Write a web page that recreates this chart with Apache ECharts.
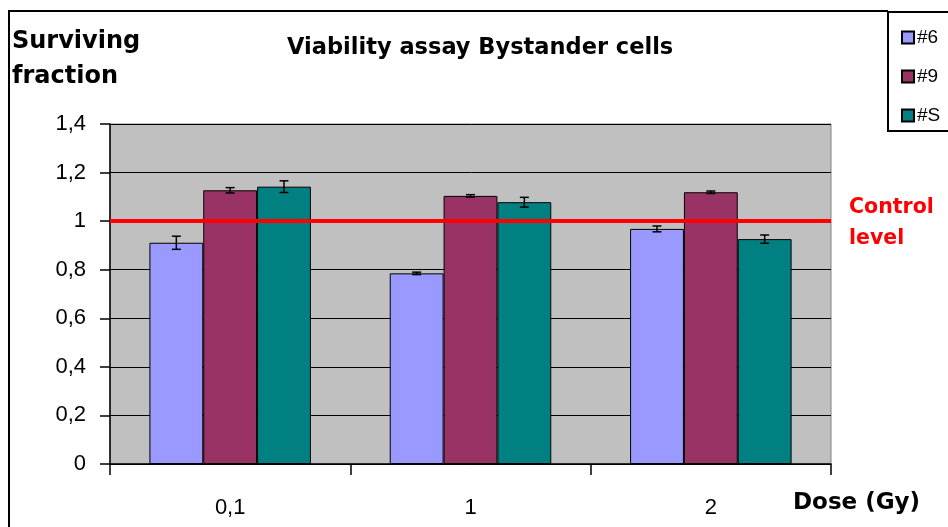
<!DOCTYPE html>
<html>
<head>
<meta charset="utf-8">
<script src="https://cdn.jsdelivr.net/npm/echarts@6/dist/echarts.min.js"></script>
<style>html,body{margin:0;padding:0;background:#fff}#c{width:948px;height:527px}</style>
</head>
<body>
<div id="c"></div>
<script>
const categories = ['0,1', '1', '2'];
const seriesNames = ['#6', '#9', '#S'];
const values6 = [0.911, 0.785, 0.968];
const values9 = [1.127, 1.104, 1.119];
const valuesS = [1.142, 1.078, 0.926];
const err6 = [0.027, 0.005, 0.012];
const err9 = [0.011, 0.005, 0.005];
const errS = [0.024, 0.020, 0.017];
const controlLevel = 1;
const yTicks = [0, 0.2, 0.4, 0.6, 0.8, 1, 1.2, 1.4];

const colors = ['#9999ff', '#993366', '#008080'];
const allValues = [values6, values9, valuesS];
const allErr = [err6, err9, errS];
const BAR_FRAC = 0.224;

const chart = echarts.init(document.getElementById('c'), null, {renderer: 'canvas'});

const barSeries = seriesNames.map((name, i) => ({
  name: name,
  type: 'bar',
  data: allValues[i],
  barWidth: (BAR_FRAC * 100) + '%',
  barGap: '0%',
  itemStyle: {color: colors[i], borderColor: '#000', borderWidth: 1},
  z: 2,
  markLine: i === 0 ? {
    silent: true,
    symbol: 'none',
    label: {show: false},
    lineStyle: {color: '#ff0000', width: 4, type: 'solid'},
    data: [{yAxis: controlLevel}],
    z: 5
  } : undefined
}));

const errSeries = seriesNames.map((name, i) => ({
  name: name + ' err',
  type: 'custom',
  z: 6,
  silent: true,
  encode: {x: 0, y: 1},
  data: allValues[i].map((v, k) => [k, v, allErr[i][k]]),
  renderItem: function (params, api) {
    const x = api.value(0), v = api.value(1), e = api.value(2);
    const catW = api.size([1, 0])[0];
    const off = (i - 1) * catW * BAR_FRAC;
    const top = api.coord([x, v + e]);
    const bot = api.coord([x, v - e]);
    const cx = top[0] + off;
    const hw = 4.5;
    const st = {stroke: '#000', lineWidth: 1.5};
    return {
      type: 'group',
      children: [
        {type: 'line', shape: {x1: cx, y1: top[1], x2: cx, y2: bot[1]}, style: st},
        {type: 'line', shape: {x1: cx - hw, y1: top[1], x2: cx + hw, y2: top[1]}, style: st},
        {type: 'line', shape: {x1: cx - hw, y1: bot[1], x2: cx + hw, y2: bot[1]}, style: st}
      ]
    };
  }
}));

const option = {
  animation: false,
  backgroundColor: '#ffffff',
  grid: {
    left: 110, right: 117, top: 124, bottom: 63,
    show: true, backgroundColor: '#c0c0c0', borderColor: '#808080', borderWidth: 1
  },
  legend: {
    data: seriesNames,
    orient: 'vertical',
    left: 896, top: 23,
    itemWidth: 12, itemHeight: 12,
    itemGap: 20,
    icon: 'rect',
    textStyle: {fontFamily: 'Liberation Sans', fontSize: 19, color: '#000', padding: [0, 0, 0, -2]}
  },
  xAxis: {
    type: 'category',
    data: categories,
    axisLine: {lineStyle: {color: '#000', width: 1.5}},
    axisTick: {show: true, length: 11, lineStyle: {color: '#000', width: 1.5}},
    axisLabel: {color: '#000', fontFamily: 'Liberation Sans', fontSize: 22, margin: 33}
  },
  yAxis: {
    type: 'value',
    min: 0, max: 1.4, interval: 0.2,
    axisLine: {show: true, lineStyle: {color: '#000', width: 1.5}},
    axisTick: {show: true, length: 10, lineStyle: {color: '#000', width: 1.5}},
    splitLine: {show: true, lineStyle: {color: '#000', width: 1}},
    axisLabel: {
      color: '#000', fontFamily: 'Liberation Sans', fontSize: 22, margin: 24,
      formatter: v => {
        const t = yTicks.find(t => Math.abs(t - v) < 1e-6);
        return String(Math.round((t !== undefined ? t : v) * 10) / 10).replace('.', ',');
      }
    }
  },
  graphic: [
    {type: 'polyline', silent: true, shape: {points: [[9, 527], [9, 11], [888, 11]]},
     style: {stroke: '#000', lineWidth: 2, fill: null}},
    {type: 'rect', silent: true, shape: {x: 888, y: 12, width: 80, height: 119},
     style: {stroke: '#000', lineWidth: 2, fill: null}},
    {type: 'text', silent: true, left: 287, top: 37,
     style: {text: 'Viability assay Bystander cells', fontFamily: 'DejaVu Sans', fontWeight: 'bold', fontSize: 22.5, fill: '#000'}},
    {type: 'text', silent: true, left: 12, top: 24,
     style: {text: 'Surviving\nfraction', fontFamily: 'DejaVu Sans', fontWeight: 'bold', fontSize: 24, lineHeight: 35, fill: '#000'}},
    {type: 'text', silent: true, left: 793, top: 492,
     style: {text: 'Dose (Gy)', fontFamily: 'DejaVu Sans', fontWeight: 'bold', fontSize: 23, fill: '#000'}},
    {type: 'text', silent: true, left: 849, top: 192,
     style: {text: 'Control\nlevel', fontFamily: 'DejaVu Sans', fontWeight: 'bold', fontSize: 20.5, lineHeight: 31, fill: '#ff0000'}}
  ],
  series: barSeries.concat(errSeries)
};
chart.setOption(option);
</script>
</body>
</html>
